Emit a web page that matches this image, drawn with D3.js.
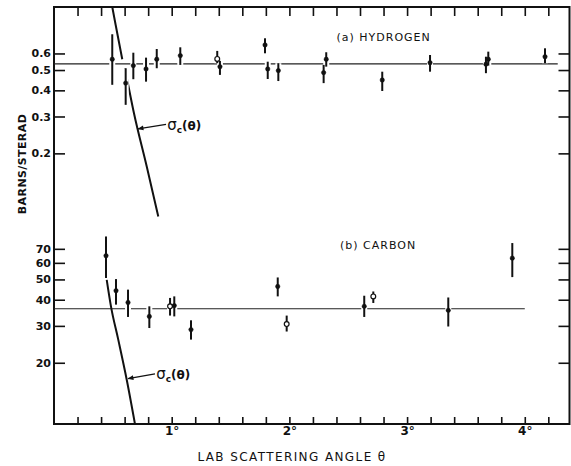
<!DOCTYPE html>
<html>
<head>
<meta charset="utf-8">
<script src="https://cdn.jsdelivr.net/npm/d3@7"></script>
<style>
  body { margin: 0; background: #fff; }
  svg text { fill: #111; }
</style>
</head>
<body>
<div id="chart"></div>
<script>
const ctx = {
    w: 571,
    h: 466,
    left: 54,
    right: 569.5,
    top: 7,
    bottom: 424
};

// (a) hydrogen, barns/sterad vs lab angle in degrees
const hydTheta = [0.495, 0.609, 0.674, 0.782, 0.873, 1.073, 1.387, 1.410, 1.793, 1.816, 1.906, 2.291, 2.313, 2.789, 3.195, 3.670, 3.690, 4.172];
const hydValue = [0.563, 0.433, 0.525, 0.506, 0.563, 0.586, 0.565, 0.519, 0.659, 0.506, 0.497, 0.486, 0.563, 0.448, 0.542, 0.533, 0.563, 0.579];
const hydLow   = [0.425, 0.341, 0.452, 0.440, 0.510, 0.529, 0.539, 0.474, 0.601, 0.453, 0.443, 0.433, 0.519, 0.397, 0.491, 0.483, 0.525, 0.539];
const hydHigh  = [0.741, 0.510, 0.605, 0.573, 0.630, 0.642, 0.617, 0.553, 0.709, 0.548, 0.539, 0.529, 0.608, 0.491, 0.590, 0.579, 0.612, 0.635];
const hydOpen  = [6];
const hydMean = 0.535;
const hydMeanRange = [0, 4.28];
// coulomb curve, null marks the break in the drawn line
const hydCurveTheta = [0.495, 0.524, 0.580, null, 0.603, 0.680, 0.788, 0.886];
const hydCurveValue = [1.0, 0.82, 0.563, null, 0.51, 0.31, 0.173, 0.1];

// (b) carbon
const carTheta = [0.442, 0.527, 0.629, 0.810, 0.986, 1.022, 1.164, 1.901, 1.977, 2.636, 2.713, 3.350, 3.894];
const carValue = [64.9, 44.2, 38.8, 33.3, 37.2, 37.5, 28.8, 46.3, 30.6, 37.2, 41.5, 35.6, 63.2];
const carLow   = [50.8, 37.9, 33.1, 29.3, 33.6, 33.3, 25.8, 41.5, 28.2, 33.1, 38.6, 29.8, 51.3];
const carHigh  = [80.2, 50.2, 44.7, 37.2, 40.8, 41.5, 31.9, 51.1, 33.6, 41.8, 43.8, 41.0, 74.6];
const carOpen  = [4, 8, 10];
const carMean = 36.2;
const carMeanRange = [0, 4.0];
const carCurveTheta = [0.448, 0.484, 0.546, 0.618, 0.688];
const carCurveValue = [49.8, 37.2, 25.8, 16.6, 10.2];

// ticks
const xTicks = d3.range(1, 22).map(i => i * 0.2);
const hydTicks = [0.2, 0.3, 0.4, 0.5, 0.6];
const carTicks = [20, 30, 40, 50, 60, 70];

function createViz() {
    const svg = d3.select("#chart").append("svg")
        .attr("width", ctx.w)
        .attr("height", ctx.h)
        .style("font-family", "'DejaVu Sans', sans-serif");

    svg.append("rect").attr("width", ctx.w).attr("height", ctx.h).attr("fill", "#fff");

    const x = d3.scaleLinear().domain([0, 4.38]).range([ctx.left, ctx.right]);
    // both panels share one log axis, carbon scale = hydrogen x 1000
    const yH = d3.scaleLog().domain([0.01, 1]).range([425.8, ctx.top]);
    const yC = d3.scaleLog().domain([10, 1000]).range([425.8, ctx.top]);

    svg.append("defs").append("marker")
        .attr("id", "arrow")
        .attr("viewBox", "0 0 10 10")
        .attr("refX", 9).attr("refY", 5)
        .attr("markerWidth", 6).attr("markerHeight", 5)
        .attr("orient", "auto")
        .append("path")
        .attr("d", "M0,1 L10,5 L0,9 Z")
        .attr("fill", "#111");

    // x axes (ticks inside the frame)
    const bottomAxis = svg.append("g")
        .attr("transform", `translate(0,${ctx.bottom})`)
        .call(d3.axisBottom(x)
            .tickValues(xTicks)
            .tickSize(-7)
            .tickPadding(4)
            .tickFormat(d => Math.abs(d - Math.round(d)) < 1e-6 ? Math.round(d) + "°" : ""));
    bottomAxis.select(".domain").remove();
    bottomAxis.selectAll("text")
        .attr("font-size", 12).attr("font-weight", "bold")
        .attr("font-family", "'DejaVu Sans', sans-serif").attr("dy", "0.6em");

    const topAxis = svg.append("g")
        .attr("transform", `translate(0,${ctx.top})`)
        .call(d3.axisTop(x).tickValues(xTicks).tickSize(-9).tickFormat(""));
    topAxis.select(".domain").remove();

    // y axes: left with labels, right plain
    function yAxes(scale, ticks, fmt) {
        const l = svg.append("g")
            .attr("transform", `translate(${ctx.left},0)`)
            .call(d3.axisLeft(scale).tickValues(ticks).tickSize(-11).tickPadding(3).tickFormat(fmt));
        l.select(".domain").remove();
        l.selectAll("text")
            .attr("font-size", 11).attr("font-weight", "bold")
            .attr("font-family", "'DejaVu Sans', sans-serif");
        const r = svg.append("g")
            .attr("transform", `translate(${ctx.right},0)`)
            .call(d3.axisRight(scale).tickValues(ticks).tickSize(-11).tickFormat(""));
        r.select(".domain").remove();
    }
    yAxes(yH, hydTicks, d3.format(".1f"));
    yAxes(yC, carTicks, d3.format("d"));

    svg.selectAll(".tick line").attr("stroke", "#111").attr("stroke-width", 1.6);

    // frame
    svg.append("path")
        .attr("d", `M${ctx.left},${ctx.top}H${ctx.right}V${ctx.bottom}H${ctx.left}Z`)
        .attr("fill", "none")
        .attr("stroke", "#111")
        .attr("stroke-width", 2);

    // mean lines
    function meanLine(scale, val, range) {
        svg.append("line")
            .attr("x1", x(range[0])).attr("x2", x(range[1]))
            .attr("y1", scale(val)).attr("y2", scale(val))
            .attr("stroke", "#222").attr("stroke-width", 1.1);
    }
    meanLine(yH, hydMean, hydMeanRange);
    meanLine(yC, carMean, carMeanRange);

    // coulomb curves
    function curve(scale, th, vals) {
        const pts = th.map((t, i) => ({ t: t, v: vals[i] }));
        const line = d3.line()
            .defined(d => d.t !== null)
            .x(d => x(d.t))
            .y(d => scale(d.v))
            .curve(d3.curveMonotoneX);
        svg.append("path")
            .datum(pts)
            .attr("fill", "none")
            .attr("stroke", "#111")
            .attr("stroke-width", 2)
            .attr("d", line);
    }
    curve(yH, hydCurveTheta, hydCurveValue);
    curve(yC, carCurveTheta, carCurveValue);

    // data points with error bars
    function points(scale, th, val, lo, hi, open) {
        const data = th.map((t, i) => ({ t: t, v: val[i], lo: lo[i], hi: hi[i], open: open.includes(i) }));
        const g = svg.append("g");
        // white halo gives the small breaks in the mean line
        g.selectAll(".halo").data(data).join("line")
            .attr("x1", d => x(d.t)).attr("x2", d => x(d.t))
            .attr("y1", d => scale(d.lo)).attr("y2", d => scale(d.hi))
            .attr("stroke", "#fff").attr("stroke-width", 6);
        g.selectAll(".err").data(data).join("line")
            .attr("x1", d => x(d.t)).attr("x2", d => x(d.t))
            .attr("y1", d => scale(d.lo)).attr("y2", d => scale(d.hi))
            .attr("stroke", "#111").attr("stroke-width", 2);
        g.selectAll("circle").data(data).join("circle")
            .attr("cx", d => x(d.t)).attr("cy", d => scale(d.v))
            .attr("r", d => d.open ? 2.4 : 2.2)
            .attr("fill", d => d.open ? "#fff" : "#111")
            .attr("stroke", "#111")
            .attr("stroke-width", d => d.open ? 1.2 : 0.5);
    }
    points(yH, hydTheta, hydValue, hydLow, hydHigh, hydOpen);
    points(yC, carTheta, carValue, carLow, carHigh, carOpen);

    // sigma_c(theta) annotations
    function sigmaLabel(scale, tip, tail, at) {
        svg.append("line")
            .attr("x1", x(tail[0])).attr("y1", scale(tail[1]))
            .attr("x2", x(tip[0])).attr("y2", scale(tip[1]))
            .attr("stroke", "#111").attr("stroke-width", 1.2)
            .attr("marker-end", "url(#arrow)");
        const t = svg.append("text")
            .attr("x", x(at[0])).attr("y", scale(at[1]))
            .attr("font-size", 12);
        t.append("tspan").attr("font-size", 15).text("σ");
        t.append("tspan").attr("font-size", 9).attr("font-weight", "bold").attr("dy", 3).text("c");
        t.append("tspan").attr("dy", -3).attr("font-weight", "bold").text("(θ)");
    }
    sigmaLabel(yH, [0.714, 0.262], [0.952, 0.275], [0.962, 0.259]);
    sigmaLabel(yC, [0.629, 16.8], [0.858, 17.7], [0.868, 16.7]);

    // panel titles
    svg.append("text")
        .attr("x", x(2.40)).attr("y", yH(0.69))
        .attr("font-size", 11).attr("letter-spacing", 1)
        .text("(a)  HYDROGEN");
    svg.append("text")
        .attr("x", x(2.43)).attr("y", yC(69.5))
        .attr("font-size", 11).attr("letter-spacing", 1)
        .text("(b)  CARBON");

    // axis titles
    svg.append("text")
        .attr("transform", "translate(26,164) rotate(-90)")
        .attr("text-anchor", "middle")
        .attr("font-size", 11).attr("font-weight", "bold")
        .attr("letter-spacing", 0.4)
        .text("BARNS/STERAD");
    svg.append("text")
        .attr("x", 292).attr("y", 461)
        .attr("text-anchor", "middle")
        .attr("font-size", 12)
        .attr("letter-spacing", 1.4)
        .text("LAB SCATTERING ANGLE θ");
}

document.addEventListener("DOMContentLoaded", function () {
    createViz();
});
</script>
</body>
</html>
